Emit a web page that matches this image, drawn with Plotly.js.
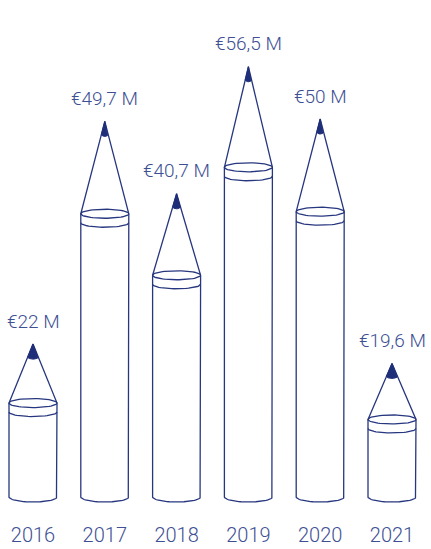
<!DOCTYPE html>
<html>
<head>
<meta charset="utf-8">
<script src="https://cdn.plot.ly/plotly-3.0.1.min.js"></script>
<style>html,body{margin:0;padding:0;background:#fff;}#chart{width:431px;height:549px;}</style>
</head>
<body>
<div id="chart"></div>
<script>
// ---- data ----
const years = ['2016', '2017', '2018', '2019', '2020', '2021'];
const values = [22, 49.7, 40.7, 56.5, 50, 19.6];
const valueLabels = values.map(v => '€' + String(v).replace('.', ',') + ' M');

// ---- styling / layout helpers ----
const lineColor = '#27377f';
const tipColor = '#1f2e78';
const textColor = '#3e4f94';
const fontFam = 'Roboto, "Open Sans", sans-serif';

const W = 431, H = 549, marginB = 28;
const plotH = H - marginB;
const k = 8.04;          // px per value unit
const zeroPx = 521;      // pixel row of value 0
const yRange = [(zeroPx - plotH) / k, zeroPx / k];
const sx = 71.8;         // px per category
const xRange = [-33 / sx, (W - 33) / sx];

const basePx = 497;                  // pixel row of pencil base
const vBase = (zeroPx - basePx) / k; // value at pencil base
const rx = 24 / sx;                  // body half-width (x units)
const ryTop = 4.5 / k;
const ryBot = 5 / k;
const bandGap = 9 / k;

function arc(cx, cy, ax, ay, t0, t1, n) {
  const xs = [], ys = [];
  for (let j = 0; j <= n; j++) {
    const t = t0 + (t1 - t0) * j / n;
    xs.push(cx + ax * Math.cos(t));
    ys.push(cy + ay * Math.sin(t));
  }
  return [xs, ys];
}

const traces = [];
values.forEach((v, i) => {
  const hPx = (v - vBase) * k;
  const conePx = 36 + 0.15 * hPx;
  const yTop = v - conePx / k;
  const xs = [], ys = [];
  // cone + sides + bottom
  xs.push(i - rx, i, i + rx, i + rx); ys.push(yTop, v, yTop, vBase);
  const b = arc(i, vBase, rx, ryBot, 2 * Math.PI, Math.PI, 30);
  xs.push(...b[0]); ys.push(...b[1]);
  xs.push(i - rx); ys.push(yTop);
  xs.push(null); ys.push(null);
  // top ellipse
  const e = arc(i, yTop, rx, ryTop, 0, 2 * Math.PI, 60);
  xs.push(...e[0], null); ys.push(...e[1], null);
  // ferrule band
  const f = arc(i, yTop - bandGap, rx, ryTop, Math.PI, 2 * Math.PI, 30);
  xs.push(...f[0]); ys.push(...f[1]);
  traces.push({
    x: xs, y: ys, type: 'scatter', mode: 'lines',
    line: {color: lineColor, width: 1.3}, hoverinfo: 'skip', showlegend: false
  });
  // lead tip
  const d = 13;
  const w = 24 * d / conePx / sx;
  const tx = [i], ty = [v];
  const ta = arc(i, v - d / k, w, 2 / k, 2 * Math.PI, Math.PI, 12);
  tx.push(...ta[0], i); ty.push(...ta[1], v);
  traces.push({
    x: tx, y: ty, type: 'scatter', mode: 'lines', fill: 'toself',
    fillcolor: tipColor, line: {color: tipColor, width: 1},
    hoverinfo: 'skip', showlegend: false
  });
});

const annotations = values.map((v, i) => ({
  x: i, y: v, xref: 'x', yref: 'y', text: valueLabels[i],
  showarrow: false, yshift: 23,
  font: {family: fontFam, size: 19, color: textColor, weight: 300}
}));

const layout = {
  width: W, height: H,
  margin: {l: 0, r: 0, t: 0, b: marginB, pad: 0},
  paper_bgcolor: '#ffffff', plot_bgcolor: '#ffffff',
  xaxis: {
    range: xRange, tickvals: years.map((_, i) => i), ticktext: years,
    showgrid: false, zeroline: false, showline: false, ticks: '',
    tickfont: {family: fontFam, size: 20, color: textColor, weight: 300},
    fixedrange: true
  },
  yaxis: {range: yRange, visible: false, showgrid: false, zeroline: false, fixedrange: true},
  annotations: annotations,
  showlegend: false
};

Plotly.newPlot('chart', traces, layout, {displayModeBar: false, staticPlot: true});
</script>
</body>
</html>
